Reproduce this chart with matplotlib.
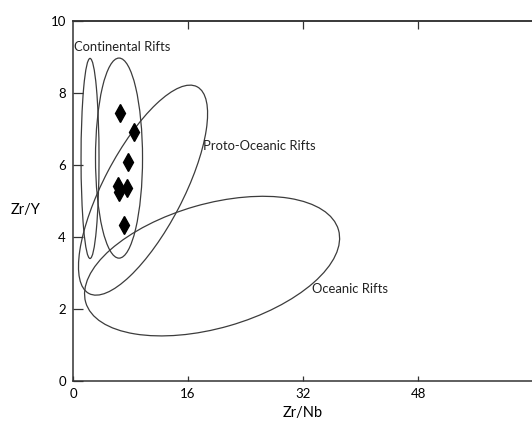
import numpy as np
import matplotlib.pyplot as plt
from matplotlib.patches import Circle
from matplotlib.transforms import Affine2D

plt.rcParams['font.family'] = ['Lato', 'DejaVu Sans']

# Sample points (Zr/Nb, Zr/Y)
zr_nb = [6.5, 8.49, 7.6, 6.3, 6.4, 7.47, 7.14]
zr_y = [7.44, 6.93, 6.1, 5.42, 5.27, 5.36, 4.34]

# Tectonic fields: centre, semi-axes (in Zr/Nb units as drawn on the page), tilt in degrees
field_cx = [2.37, 6.4, 9.74, 19.34]
field_cy = [6.19, 6.2, 5.31, 3.20]
field_a = [13.91, 13.91, 16.22, 18.28]
field_b = [1.25, 3.27, 5.54, 8.63]
field_tilt = [90, 90, 62.4, 16]

# Field labels
label_text = ['Continental Rifts', 'Proto-Oceanic Rifts', 'Oceanic Rifts']
label_x = [0.14, 18.13, 33.2]
label_y = [9.28, 6.54, 2.56]

x_ticks = [0, 16, 32, 48]
y_ticks = [0, 2, 4, 6, 8, 10]

fig = plt.figure(figsize=(5.32, 4.21), dpi=100)
ax = fig.add_axes([0.1372, 0.0943, 0.8652, 0.8551])
ax.set_xlim(0, 64)
ax.set_ylim(0, 10)

# how much taller one y unit is than one x unit on the page
pos = ax.get_position()
w_px = pos.width * fig.get_figwidth()
h_px = pos.height * fig.get_figheight()
stretch = (h_px / 10) / (w_px / 64)

line_col = '#3c3c3c'
for cx, cy, a, b, t in zip(field_cx, field_cy, field_a, field_b, field_tilt):
    tr = Affine2D().scale(a, b).rotate_deg(t).scale(1, 1 / stretch).translate(cx, cy) + ax.transData
    ax.add_patch(Circle((0, 0), 1, transform=tr, fill=False, ec=line_col, lw=0.9))

for txt, x, y in zip(label_text, label_x, label_y):
    ax.text(x, y, txt, ha='left', va='center', fontsize=9.4, color='#222222')

ax.plot(zr_nb, zr_y, 'd', color='black', ms=9, ls='none')

for s in ax.spines.values():
    s.set_color('#333333')
    s.set_linewidth(1.1)

ax.set_xticks(x_ticks)
ax.set_yticks(y_ticks)
ax.tick_params(axis='x', direction='in', length=3.5, width=0.9, color='#333333',
               labelsize=9.5, pad=5)
ax.tick_params(axis='y', direction='in', length=7, width=0.9, color='#333333',
               labelsize=9.5, pad=5)

top = ax.secondary_xaxis('top')
top.set_xticks([16, 32, 48])
top.tick_params(direction='in', length=6, width=0.9, color='#333333', labeltop=False)
top.spines['top'].set_color('#333333')
top.spines['top'].set_linewidth(1.1)

ax.set_xlabel('Zr/Nb', fontsize=10.5, va='center')
ax.xaxis.set_label_coords(0.5, -0.087)
ax.set_ylabel('Zr/Y', fontsize=10.5, rotation=0, ha='center', va='center')
ax.yaxis.set_label_coords(-0.103, 0.476)

fig.savefig('out.png', dpi=100)
